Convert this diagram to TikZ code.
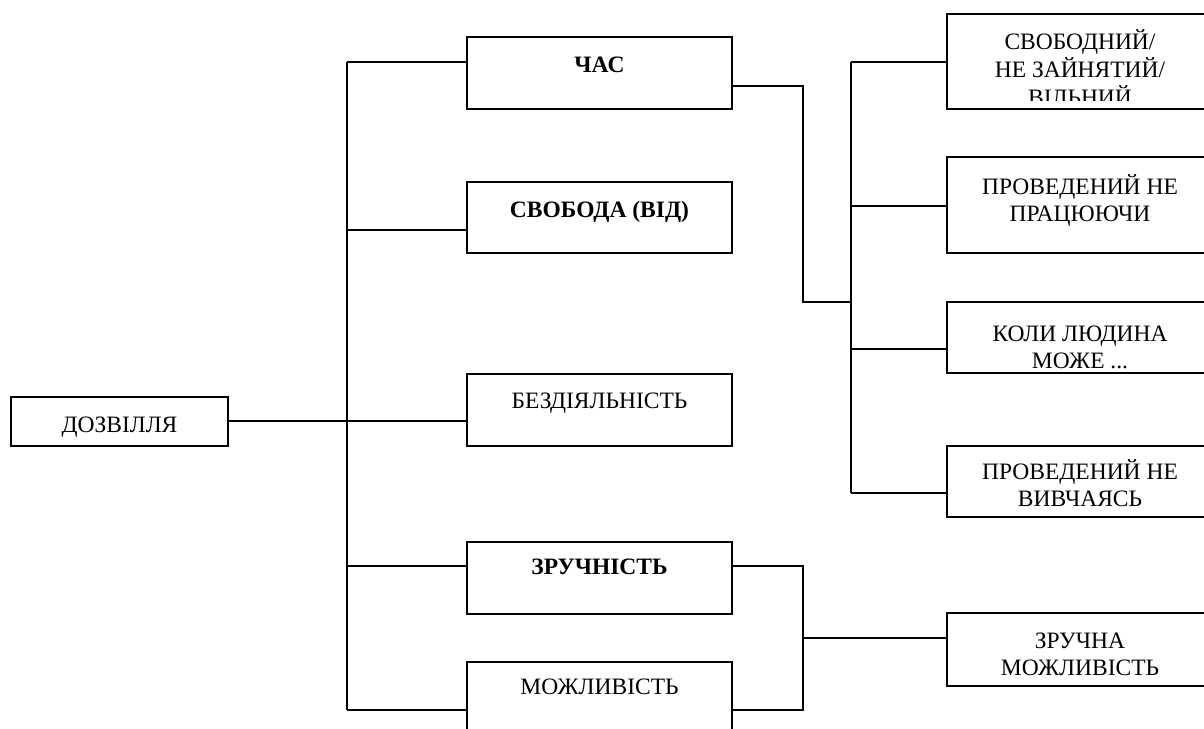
\documentclass[tikz,border=0pt]{standalone}
\usepackage{fontspec}
\setmainfont{Liberation Serif}
\newcommand\mylines[1]{\begin{tabular}[t]{@{}c@{}}#1\end{tabular}}
\begin{document}
\begin{tikzpicture}[x=1pt,y=-1pt,
  line width=1.8pt,
  box/.style={draw, line width=1.8pt, rectangle, inner sep=0pt, outer sep=0pt},
  txt/.style={anchor=base, inner sep=0pt, font=\fontsize{23.5}{27}\selectfont},
  btxt/.style={txt, font=\fontsize{23.5}{27}\selectfont\bfseries}]
\useasboundingbox (0,0) rectangle (1204,728);
\clip (0,0) rectangle (1204,728);
\tabcolsep=0pt
% boxes
\node[box, minimum width=217pt, minimum height=49pt] (dozv) at (119.5,421.5) {};
\node[box, minimum width=265pt, minimum height=72pt] (chas) at (599.5,73) {};
\node[box, minimum width=265pt, minimum height=71pt] (svob) at (599.5,217.5) {};
\node[box, minimum width=265pt, minimum height=72pt] (bez) at (599.5,410) {};
\node[box, minimum width=265pt, minimum height=72pt] (zruch) at (599.5,578) {};
\node[box, minimum width=265pt, minimum height=72pt] (mozh) at (599.5,698) {};
\node[box, minimum width=266pt, minimum height=95pt] (r1box) at (1080,61.5) {};
\node[box, minimum width=266pt, minimum height=96pt] (r2box) at (1080,205) {};
\node[box, minimum width=266pt, minimum height=71pt] (r3box) at (1080,337.5) {};
\node[box, minimum width=266pt, minimum height=71pt] (r4box) at (1080,481.5) {};
\node[box, minimum width=266pt, minimum height=73pt] (zmbox) at (1080,649.5) {};
% texts
\node[txt] (tdozv) at (119.5,432) {ДОЗВІЛЛЯ};
\node[btxt] (tchas) at (599.5,72) {ЧАС};
\node[btxt] (tsvob) at (599.5,217) {СВОБОДА (ВІД)};
\node[txt] (tbez) at (599.5,408) {БЕЗДІЯЛЬНІСТЬ};
\node[btxt] (tzruch) at (599.5,574) {ЗРУЧНІСТЬ};
\node[txt] (tmozh) at (599.5,694) {МОЖЛИВІСТЬ};
\begin{scope}
\clip (947,14) rectangle (1213,100);
\node[txt] (tr1) at (1080,49) {\mylines{СВОБОДНИЙ/\\НЕ ЗАЙНЯТИЙ/\\ВІЛЬНИЙ}};
\end{scope}
\node[txt] (tr2) at (1080,194) {\mylines{ПРОВЕДЕНИЙ НЕ\\ПРАЦЮЮЧИ}};
\node[txt] (tr3) at (1080,341) {\mylines{КОЛИ ЛЮДИНА\\МОЖЕ ...}};
\node[txt] (tr4) at (1080,479) {\mylines{ПРОВЕДЕНИЙ НЕ\\ВИВЧАЯСЬ}};
\node[txt] (tzm) at (1080,648) {\mylines{ЗРУЧНА\\МОЖЛИВІСТЬ}};
% left bus
\coordinate (b1) at (347,62);
\coordinate (b2) at (347,230);
\coordinate (b3) at (347,421);
\coordinate (b4) at (347,566);
\coordinate (b5) at (347,710);
\draw (b1) -- (b5);
\draw (b1) -- (b1 -| chas.west);
\draw (b2) -- (b2 -| svob.west);
\draw (b3 -| dozv.east) -- (b3 -| bez.west);
\draw (b4) -- (b4 -| zruch.west);
\draw (b5) -- (b5 -| mozh.west);
% right of ЧАС
\coordinate (c1) at (803,86);
\coordinate (c2) at (803,302);
\coordinate (rm) at (851,302);
\draw (c1 -| chas.east) -- (c1) -- (c2) -- (rm);
\coordinate (r1) at (851,62);
\coordinate (r2) at (851,206);
\coordinate (r3) at (851,349);
\coordinate (r4) at (851,493);
\draw (r1) -- (r4);
\draw (r1) -- (r1 -| r1box.west);
\draw (r2) -- (r2 -| r2box.west);
\draw (r3) -- (r3 -| r3box.west);
\draw (r4) -- (r4 -| r4box.west);
% bottom pair
\coordinate (z1) at (803,566);
\coordinate (z2) at (803,710);
\coordinate (z3) at (803,638);
\draw (z1 -| zruch.east) -- (z1) -- (z2) -- (z2 -| mozh.east);
\draw (z3) -- (z3 -| zmbox.west);
\end{tikzpicture}
\end{document}
